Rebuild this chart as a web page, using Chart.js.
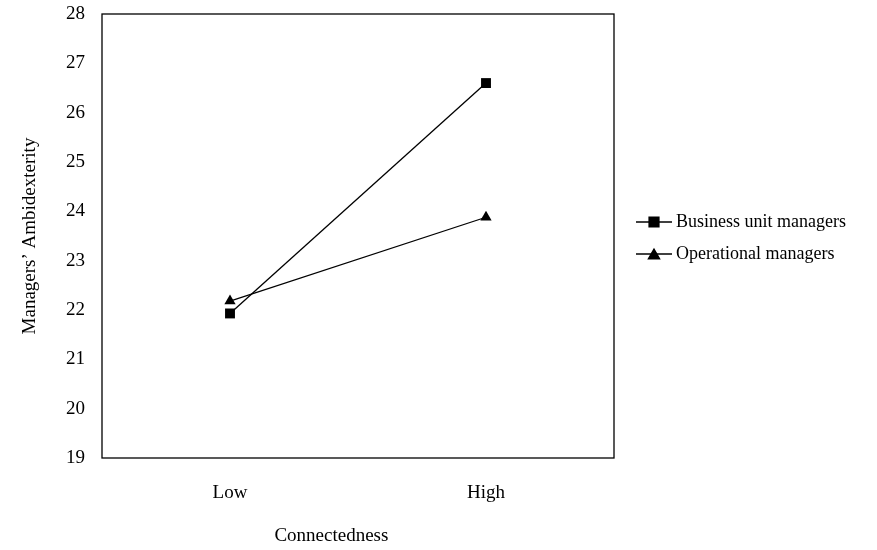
<!DOCTYPE html>
<html>
<head>
<meta charset="utf-8">
<script src="https://cdn.jsdelivr.net/npm/chart.js@4/dist/chart.umd.min.js"></script>
<style>
html,body{margin:0;padding:0;background:#fff;}
#wrap{width:877px;height:550px;}
</style>
</head>
<body>
<div id="wrap"><canvas id="c" width="877" height="550"></canvas></div>
<script>
const categories = ["Low", "High"];
const businessUnitManagers = [21.93, 26.6];
const operationalManagers = [22.18, 23.88];
const yTicks = [19, 20, 21, 22, 23, 24, 25, 26, 27, 28];
const seriesLabels = ["Business unit managers", "Operational managers"];
const xTitle = "Connectedness";
const yTitle = "Managers\u2019 Ambidexterity";

const FONT = "Liberation Serif, Times New Roman, serif";
const FS = 19;
const LFS = 18;

const framePlugin = {
  id: 'frame',
  afterDraw(chart) {
    const ctx = chart.ctx, a = chart.chartArea;
    ctx.save();
    ctx.strokeStyle = '#000';
    ctx.lineWidth = 1.3;
    ctx.strokeRect(a.left, a.top, a.right - a.left, a.bottom - a.top);
    ctx.fillStyle = '#000';
    ctx.font = FS + 'px ' + FONT;
    // x title
    ctx.textAlign = 'center';
    ctx.textBaseline = 'middle';
    ctx.fillText(xTitle, a.left + (a.right - a.left) * 0.448, a.bottom + 78);
    // y title
    ctx.save();
    ctx.translate(30, (a.top + a.bottom) / 2);
    ctx.rotate(-Math.PI / 2);
    ctx.fillText(yTitle, 0, 0);
    ctx.restore();
    // legend
    ctx.font = LFS + 'px ' + FONT;
    const lx = a.right + 22;
    const rows = [222, 254];
    chart.data.datasets.forEach((ds, i) => {
      const y = rows[i];
      ctx.beginPath();
      ctx.lineWidth = 1.3;
      ctx.moveTo(lx, y);
      ctx.lineTo(lx + 36, y);
      ctx.stroke();
      Chart.helpers.drawPoint(ctx, {pointStyle: ds.pointStyle, radius: ds.pointRadius, borderWidth: 1}, lx + 18, y + (ds.pointStyle === 'triangle' ? 1.5 : 0));
      ctx.fill();
      ctx.textAlign = 'left';
      ctx.textBaseline = 'middle';
      ctx.fillText(ds.label, lx + 40, y);
    });
    ctx.restore();
  }
};

new Chart(document.getElementById('c'), {
  type: 'line',
  data: {
    labels: categories,
    datasets: [
      {
        label: seriesLabels[0],
        data: businessUnitManagers,
        borderColor: '#000',
        backgroundColor: '#000',
        borderWidth: 1.3,
        pointStyle: 'rect',
        pointRadius: 7,
        pointHoverRadius: 7,
        pointBorderWidth: 0,
        tension: 0
      },
      {
        label: seriesLabels[1],
        data: operationalManagers,
        borderColor: '#000',
        backgroundColor: '#000',
        borderWidth: 1.3,
        pointStyle: 'triangle',
        pointRadius: 6.5,
        pointHoverRadius: 6.5,
        pointBorderWidth: 0,
        tension: 0
      }
    ]
  },
  options: {
    responsive: false,
    animation: false,
    events: [],
    layout: { padding: { top: 14, right: 263, left: 0, bottom: 0 } },
    plugins: { legend: { display: false }, tooltip: { enabled: false } },
    scales: {
      x: {
        offset: true,
        grid: { display: false, drawTicks: false },
        border: { display: false },
        ticks: { color: '#000', font: { family: FONT, size: FS }, padding: 24 },
        afterFit(s) { s.height = 92; s.paddingLeft = 0; s.paddingRight = 0; }
      },
      y: {
        min: 19,
        max: 28,
        afterBuildTicks(s) { s.ticks = yTicks.map(v => ({ value: v })); },
        grid: { display: false, drawTicks: false },
        border: { display: false },
        ticks: { color: '#000', font: { family: FONT, size: FS }, padding: 17 },
        afterFit(s) { s.width = 102; s.paddingTop = 0; s.paddingBottom = 0; }
      }
    }
  },
  plugins: [framePlugin]
});
</script>
</body>
</html>
